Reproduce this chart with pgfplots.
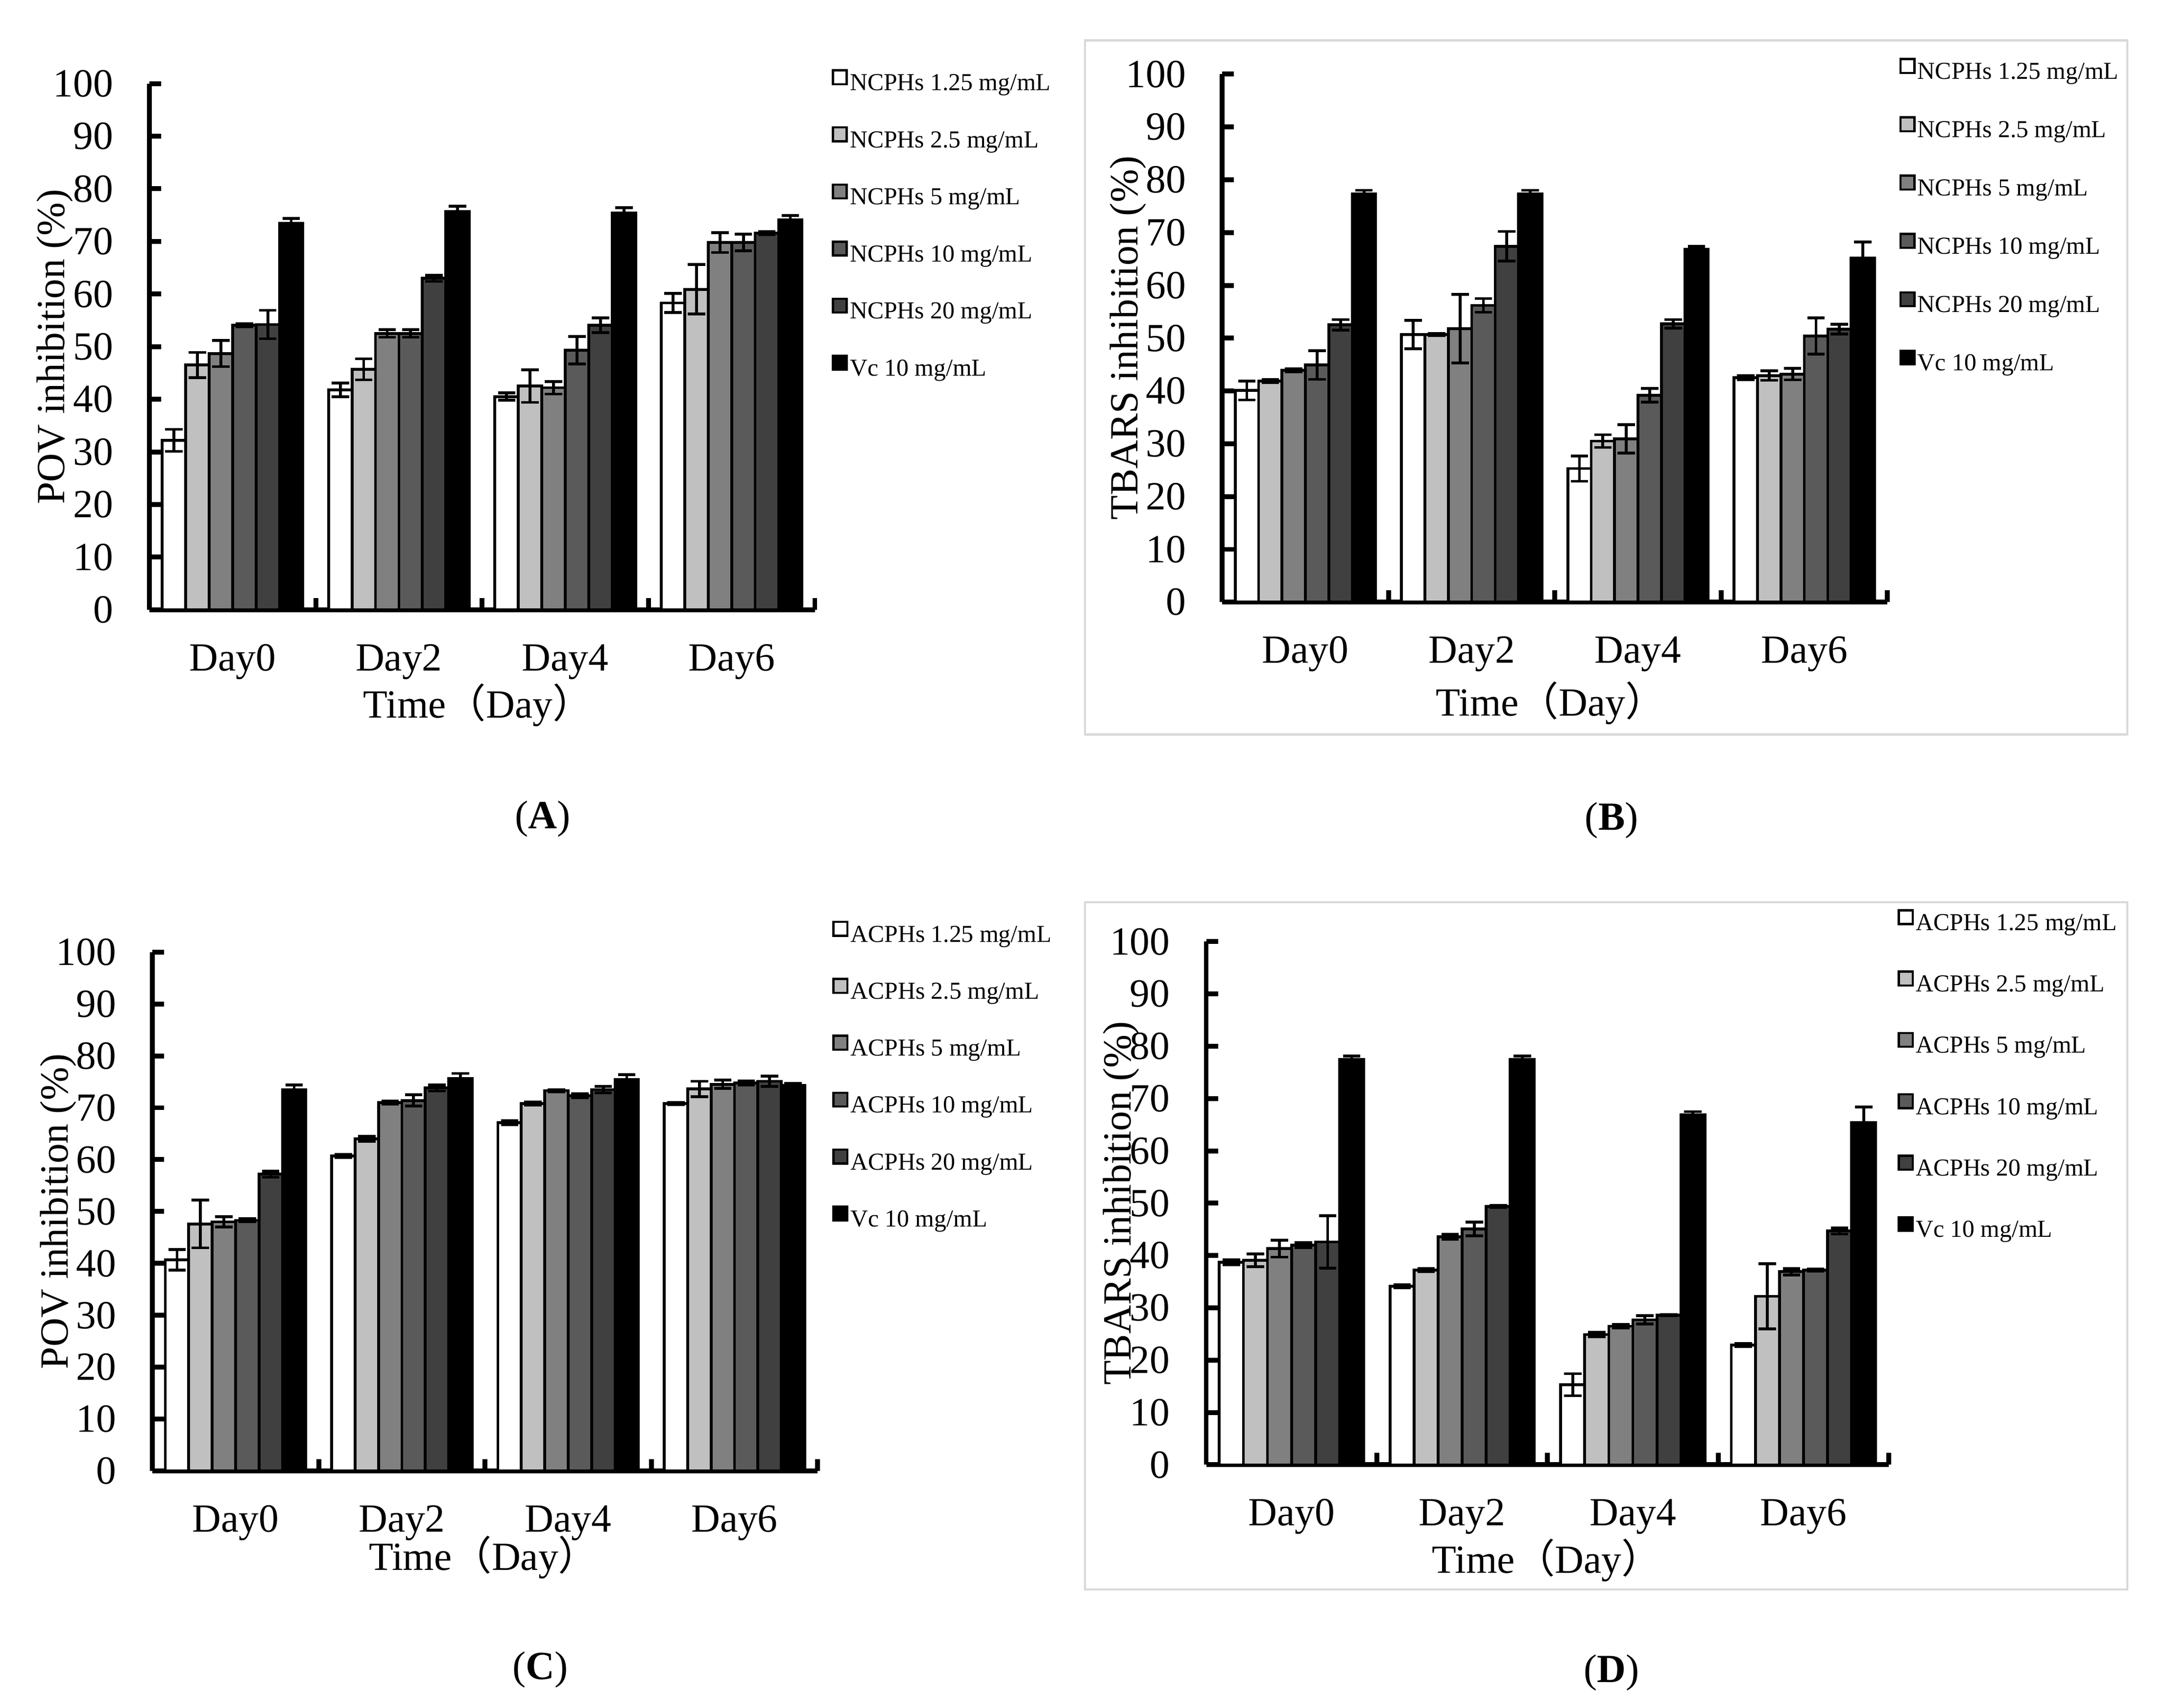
\documentclass[border=0pt]{standalone}
\usepackage{fontspec}
\setmainfont{Liberation Serif}
\newfontfamily\cjk{Noto Sans CJK SC}
\usepackage{pgfplots}
\usepackage{pgfplotstable}
\pgfplotsset{compat=1.18}

\definecolor{c1}{HTML}{FFFFFF}
\definecolor{c2}{HTML}{C0C0C0}
\definecolor{c3}{HTML}{808080}
\definecolor{c4}{HTML}{5A5A5A}
\definecolor{c5}{HTML}{404040}
\definecolor{c6}{HTML}{000000}
\definecolor{boxgray}{HTML}{D9D9D9}

% columns: 1.25, 2.5, 5, 10, 20 mg/mL, Vc; e* = error
\pgfplotstableread{
x a ea b eb c ec d ed f ef g eg
0 32.2 2.1 46.5 2.4 48.7 2.5 54.1 0.3 54.2 2.7 73.4 1.0
1 41.8 1.3 45.7 2.0 52.5 0.7 52.5 0.7 63.0 0.6 75.7 1.0
2 40.5 0.7 42.5 3.1 42.2 1.2 49.3 2.6 54.1 1.4 75.4 1.0
3 58.3 1.8 60.9 4.7 69.8 1.9 69.8 1.6 71.6 0.3 74.1 0.8
}\povN
\pgfplotstableread{
x a ea b eb c ec d ed f ef g eg
0 40.1 1.8 41.9 0.3 43.9 0.3 44.9 2.7 52.5 1.0 77.3 0.7
1 50.7 2.7 50.7 0.2 51.8 6.5 56.2 1.3 67.4 2.8 77.3 0.7
2 25.3 2.4 30.5 1.2 30.9 2.7 39.2 1.3 52.7 0.8 66.8 0.6
3 42.5 0.4 42.9 0.9 43.2 1.1 50.4 3.4 51.7 0.9 65.2 3.0
}\tbaN
\pgfplotstableread{
x a ea b eb c ec d ed f ef g eg
0 40.7 2.0 47.6 4.6 48.0 1.0 48.3 0.3 57.2 0.6 73.5 0.9
1 60.7 0.3 64.0 0.5 71.0 0.3 71.4 1.1 73.8 0.6 75.6 1.0
2 67.1 0.4 70.8 0.3 73.3 0.2 72.3 0.4 73.5 0.6 75.4 1.0
3 70.8 0.2 73.6 1.5 74.5 0.8 74.8 0.4 75.1 1.0 74.3 0.4
}\povA
\pgfplotstableread{
x a ea b eb c ec d ed f ef g eg
0 38.7 0.5 39.1 1.2 41.3 1.6 42.0 0.5 42.6 5.0 77.5 0.6
1 34.1 0.3 37.2 0.3 43.6 0.5 45.1 1.3 49.4 0.2 77.5 0.6
2 15.3 2.1 24.9 0.4 26.5 0.3 27.7 0.8 28.6 0.1 66.9 0.6
3 22.9 0.3 32.2 6.2 36.9 0.6 37.2 0.2 44.7 0.6 65.4 3.0
}\tbaA

\pgfplotsset{
  panel/.style={
    scale only axis, anchor=south west,
    ybar=0pt,
    xmin=-0.5, xmax=3.5, ymin=0, ymax=100,
    enlargelimits=false,
    axis x line=bottom, axis y line=left,
    axis line style={line width=1pt, -},
    tick align=inside, major tick length=0.085cm,
    tick style={line width=1pt, black},
    ytick={0,10,...,100},
    xtick={0.5,1.5,2.5,3.5}, xticklabels={},
    extra x ticks={0,1,2,3},
    extra x tick labels={Day0,Day2,Day4,Day6},
    extra x tick style={tick style={draw=none}},
    /pgf/number format/assume math mode=true,
    tick label style={font=\fontsize{8.2}{10}\selectfont},
    xticklabel style={anchor=base, inner sep=0pt, yshift=-0.44cm},
    yticklabel style={anchor=east, inner sep=0pt, xshift=-0.255cm},
    label style={font=\fontsize{8.2}{10}\selectfont},
    xlabel={Time{\cjk（}Day{\cjk）}},
    error bars/y dir=both, error bars/y explicit,
    error bars/error bar style={line width=0.58pt, black},
    error bars/error mark options={rotate=90, mark size=0.063cm, line width=0.58pt, black},
    legend cell align=left,
    legend style={anchor=north west, draw=none, fill=none, inner sep=0pt,
      column sep=0.015cm,
      nodes={inner sep=0pt, text height=0.12cm, text depth=0.04cm},
      font=\fontsize{5}{6}\selectfont},
  },
  bar/.style={fill=#1, draw=black, line width=0.58pt,
    legend image code/.code={\draw[fill=#1, draw=black, line width=0.45pt] (0cm,0.005cm) rectangle (0.1cm,0.105cm);}},
}

\newcommand{\sixbars}[1]{%
  \addplot[bar=c1] table[x=x, y=a, y error=ea]{#1};
  \addplot[bar=c2] table[x=x, y=b, y error=eb]{#1};
  \addplot[bar=c3] table[x=x, y=c, y error=ec]{#1};
  \addplot[bar=c4] table[x=x, y=d, y error=ed]{#1};
  \addplot[bar=c5] table[x=x, y=f, y error=ef]{#1};
  \addplot[bar=c6] table[x=x, y=g, y error=eg]{#1};
}

\begin{document}
\begin{tikzpicture}
\useasboundingbox (0,0) rectangle (15.63,-12.325);

\draw[boxgray, line width=0.45pt] (7.83,-0.292) rectangle (15.35,-5.30);
\draw[boxgray, line width=0.45pt] (7.83,-6.51) rectangle (15.35,-11.47);

% (A)
\begin{axis}[panel, at={(1.078cm,-4.40cm)}, width=4.802cm, height=3.797cm,
  bar width=0.1693cm,
  ylabel={POV inhibition (\%)},
  ylabel style={at={([xshift=-0.613cm]rel axis cs:0,0.5)}, rotate=0, anchor=base},
  xlabel style={at={([xshift=-0.03cm,yshift=-0.78cm]rel axis cs:0.5,0)}, anchor=base},
  legend style={at={(rel axis cs:1.024,1.029)}, row sep=0.219cm}]
\sixbars{\povN}
\legend{NCPHs 1.25 mg/mL, NCPHs 2.5 mg/mL, NCPHs 5 mg/mL, NCPHs 10 mg/mL, NCPHs 20 mg/mL, Vc 10 mg/mL}
\end{axis}

% (B)
\begin{axis}[panel, at={(8.82cm,-4.345cm)}, width=4.80cm, height=3.81cm,
  bar width=0.169cm,
  ylabel={TBARS inhibition (\%)},
  ylabel style={at={([xshift=-0.61cm]rel axis cs:0,0.5)}, rotate=0, anchor=base},
  xlabel style={at={([xshift=-0.03cm,yshift=-0.82cm]rel axis cs:0.5,0)}, anchor=base},
  legend style={at={(rel axis cs:1.0167,1.0326)}, row sep=0.228cm}]
\sixbars{\tbaN}
\legend{NCPHs 1.25 mg/mL, NCPHs 2.5 mg/mL, NCPHs 5 mg/mL, NCPHs 10 mg/mL, NCPHs 20 mg/mL, Vc 10 mg/mL}
\end{axis}

% (C)
\begin{axis}[panel, at={(1.10cm,-10.615cm)}, width=4.80cm, height=3.745cm,
  bar width=0.169cm,
  ylabel={POV inhibition (\%)},
  ylabel style={at={([xshift=-0.61cm]rel axis cs:0,0.5)}, rotate=0, anchor=base},
  xlabel style={at={([xshift=-0.01cm,yshift=-0.715cm]rel axis cs:0.5,0)}, anchor=base},
  legend style={at={(rel axis cs:1.0208,1.062)}, row sep=0.218cm}]
\sixbars{\povA}
\legend{ACPHs 1.25 mg/mL, ACPHs 2.5 mg/mL, ACPHs 5 mg/mL, ACPHs 10 mg/mL, ACPHs 20 mg/mL, Vc 10 mg/mL}
\end{axis}

% (D)
\begin{axis}[panel, at={(8.704cm,-10.57cm)}, width=4.926cm, height=3.775cm,
  bar width=0.1736cm,
  ylabel={TBARS inhibition (\%)},
  ylabel style={at={([xshift=-0.545cm]rel axis cs:0,0.5)}, rotate=0, anchor=base},
  xlabel style={at={([xshift=-0.005cm,yshift=-0.78cm]rel axis cs:0.5,0)}, anchor=base},
  legend style={at={(rel axis cs:1.0116,1.064)}, row sep=0.25cm}]
\sixbars{\tbaA}
\legend{ACPHs 1.25 mg/mL, ACPHs 2.5 mg/mL, ACPHs 5 mg/mL, ACPHs 10 mg/mL, ACPHs 20 mg/mL, Vc 10 mg/mL}
\end{axis}

\node[font=\fontsize{8.2}{10}\selectfont] at (3.916,-5.91) {(\textbf{A})};
\node[font=\fontsize{8.2}{10}\selectfont] at (11.63,-5.92) {(\textbf{B})};
\node[font=\fontsize{8.2}{10}\selectfont] at (3.90,-12.05) {(\textbf{C})};
\node[font=\fontsize{8.2}{10}\selectfont] at (11.63,-12.07) {(\textbf{D})};
\end{tikzpicture}
\end{document}
